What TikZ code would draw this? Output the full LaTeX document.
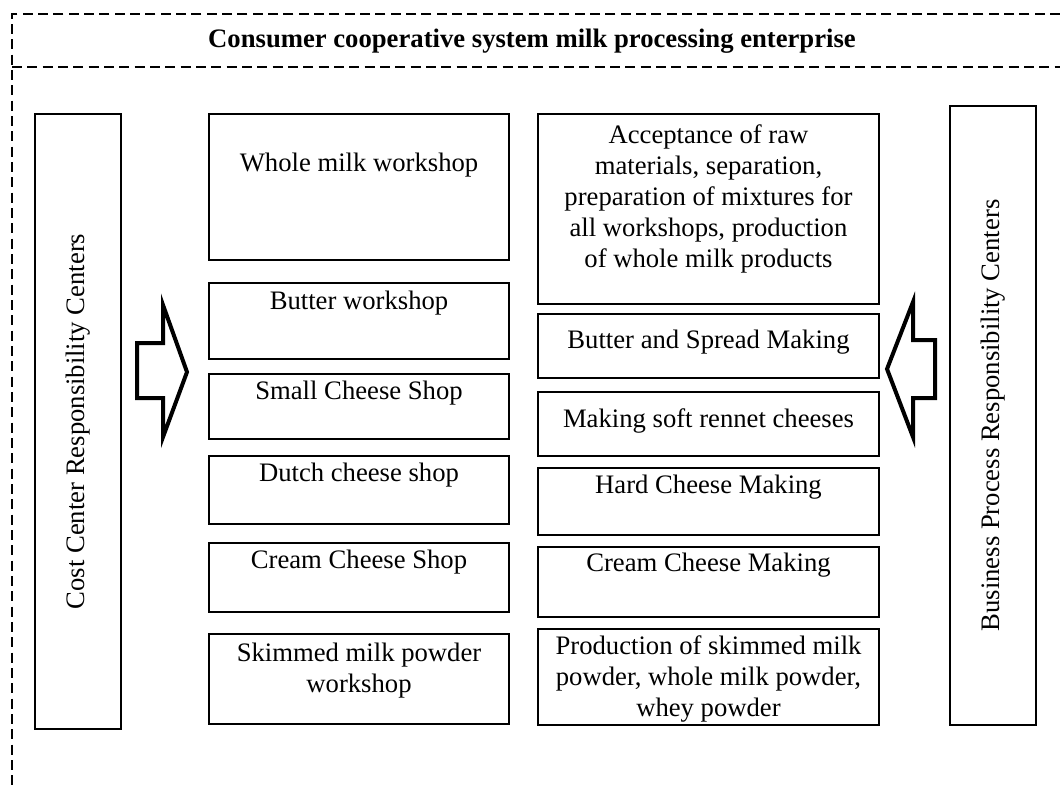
\documentclass[tikz,border=0pt]{standalone}
\usepackage{fontspec}
\setmainfont{Liberation Serif}
\usetikzlibrary{calc, positioning}

\tikzset{
  cell/.style={draw, line width=0.9pt, anchor=north west, inner sep=0pt},
  midcell/.style={cell, minimum width=135pt},
  rightcell/.style={cell, minimum width=153.45pt},
  sidecell/.style={cell, minimum width=38.7pt},
  txt/.style={align=center, inner sep=0pt, font=\fontsize{12pt}{13.95pt}\selectfont},
  frame/.style={dash pattern=on 4.5pt off 2.4pt, line width=0.9pt},
  blockarrow/.style={line width=1.8pt, line join=miter}
}

\begin{document}
\begin{tikzpicture}[line cap=butt, x=0.45pt, y=-0.45pt]
\useasboundingbox (0,0) rectangle (1060,785);

% outer dashed frame
\coordinate (topR) at (1060,14);
\coordinate (topL) at (12,14);
\coordinate (botL) at (12,785);
\coordinate (headL) at (12,67);
\coordinate (headR) at (1060,67);
\draw[frame] (topR) -- (topL) -- (botL);
\draw[frame] (headL) -- (headR);
\node[txt, font=\fontsize{12pt}{13.95pt}\selectfont\bfseries] (title) at (532,41)
  {Consumer cooperative system milk processing enterprise};

% side boxes
\node[sidecell, minimum height=276.75pt] (cost) at (34,113) {};
\node[txt, rotate=90] (costT) at (cost.center) {Cost Center Responsibility Centers};
\node[sidecell, minimum height=278.55pt] (bpr) at (949,105) {};
\node[txt, rotate=90] (bprT) at (bpr.center) {Business Process Responsibility Centers};

% workshops
\node[midcell, minimum height=65.7pt] (whole) at (208,113) {};
\node[txt] (wholeT) at ($(whole.north)+(0,52)$) {Whole milk workshop};
\node[midcell, minimum height=34.2pt] (butter) at (208,282) {};
\node[txt] (butterT) at ($(butter.north)+(0,21)$) {Butter workshop};
\node[midcell, minimum height=29.25pt] (small) at (208,373) {};
\node[txt] (smallT) at ($(small.north)+(0,20)$) {Small Cheese Shop};
\node[midcell, minimum height=30.6pt] (dutch) at (208,455) {};
\node[txt] (dutchT) at ($(dutch.north)+(0,20)$) {Dutch cheese shop};
\node[midcell, minimum height=31.05pt] (creamS) at (208,542) {};
\node[txt] (creamST) at ($(creamS.north)+(0,20)$) {Cream Cheese Shop};
\node[midcell, minimum height=40.5pt] (skim) at (208,633) {};
\node[txt] (skimT) at ($(skim.north)+(0,38)$) {Skimmed milk powder\\workshop};

% processes
\node[rightcell, minimum height=85.5pt] (accept) at (537,113) {};
\node[txt] (acceptT) at ($(accept.north)+(0,86)$)
  {Acceptance of raw\\materials, separation,\\preparation of mixtures for\\all workshops, production\\of whole milk products};
\node[rightcell, minimum height=28.8pt] (spread) at (537,313) {};
\node[txt] (spreadT) at ($(spread.north)+(0,29)$) {Butter and Spread Making};
\node[rightcell, minimum height=28.8pt] (soft) at (537,391) {};
\node[txt] (softT) at ($(soft.north)+(0,30)$) {Making soft rennet cheeses};
\node[rightcell, minimum height=30.15pt] (hard) at (537,467) {};
\node[txt] (hardT) at ($(hard.north)+(0,20)$) {Hard Cheese Making};
\node[rightcell, minimum height=31.5pt] (creamM) at (537,546) {};
\node[txt] (creamMT) at ($(creamM.north)+(0,19)$) {Cream Cheese Making};
\node[rightcell, minimum height=43.2pt] (prod) at (537,628) {};
\node[txt] (prodT) at ($(prod.north)+(0,51)$)
  {Production of skimmed milk\\powder, whole milk powder,\\whey powder};

% block arrows
\draw[blockarrow] (137,343) -- (163,343) -- (163,305) -- (187,372)
  -- (163,437) -- (163,398) -- (137,398) -- cycle;
\draw[blockarrow] (935,340) -- (913,340) -- (913,302) -- (887,369)
  -- (913,437) -- (913,398) -- (935,398) -- cycle;

\end{tikzpicture}
\end{document}
